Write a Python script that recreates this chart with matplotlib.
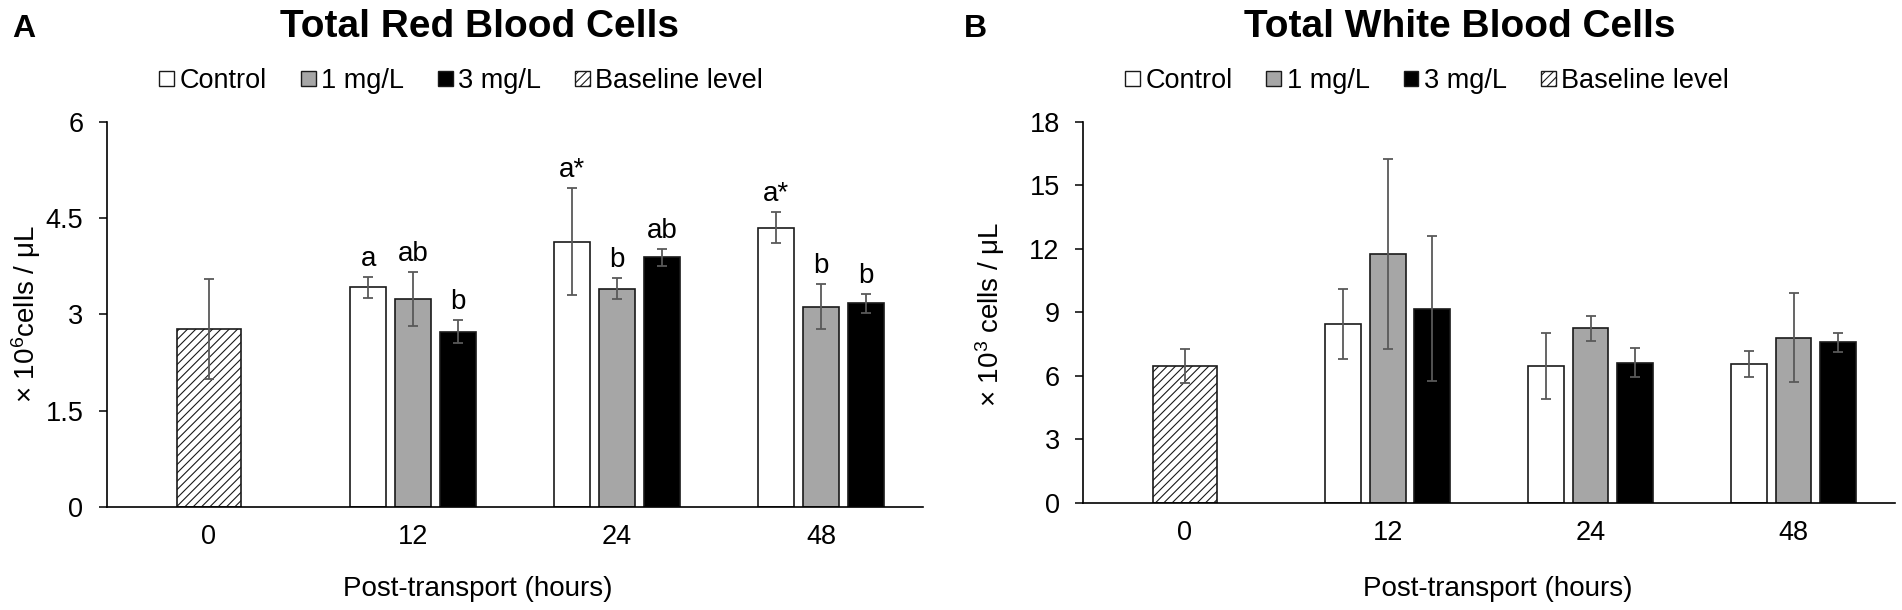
import matplotlib
matplotlib.use("Agg")
import matplotlib.pyplot as plt
from matplotlib.patches import Patch
import numpy as np

plt.rcParams['font.family'] = ['Liberation Sans', 'DejaVu Sans']
plt.rcParams['mathtext.fontset'] = 'custom'
plt.rcParams['mathtext.rm'] = 'Liberation Sans'
plt.rcParams['mathtext.it'] = 'Liberation Sans:italic'
plt.rcParams['mathtext.bf'] = 'Liberation Sans:bold'
plt.rcParams['hatch.linewidth'] = 0.8

# ---------------- data ----------------
categories = ['0', '12', '24', '48']
groups = ['Control', '1 mg/L', '3 mg/L']

rbc_baseline = 2.77
rbc_baseline_err = 0.78
rbc_control = [3.42, 4.13, 4.35]
rbc_control_err = [0.16, 0.83, 0.24]
rbc_1mg = [3.245, 3.40, 3.12]
rbc_1mg_err = [0.42, 0.16, 0.35]
rbc_3mg = [2.73, 3.89, 3.17]
rbc_3mg_err = [0.18, 0.13, 0.15]
rbc_letters_control = ['a', 'a*', 'a*']
rbc_letters_1mg = ['ab', 'b', 'b']
rbc_letters_3mg = ['b', 'ab', 'b']

wbc_baseline = 6.48
wbc_baseline_err = 0.80
wbc_control = [8.46, 6.48, 6.57]
wbc_control_err = [1.66, 1.55, 0.62]
wbc_1mg = [11.77, 8.24, 7.81]
wbc_1mg_err = [4.48, 0.59, 2.10]
wbc_3mg = [9.18, 6.63, 7.58]
wbc_3mg_err = [3.43, 0.68, 0.46]

rbc_ticks = [0, 1.5, 3, 4.5, 6]
rbc_ticklabels = ['0', '1.5', '3', '4.5', '6']
wbc_ticks = [0, 3, 6, 9, 12, 15, 18]
wbc_ticklabels = ['0', '3', '6', '9', '12', '15', '18']

# ---------------- style ----------------
W, H = 1902, 610
fig = plt.figure(figsize=(W / 100, H / 100), dpi=100)

def fx(x):
    return x / W

def fy(y):
    return 1 - y / H

colors = ['white', '#a6a6a6', 'black']
edge = '#1a1a1a'
err_col = '#595959'
bw = 0.176
off = 0.22
base_w = 0.314

def draw_panel(ax, base, base_err, series, errs, letters, ticks, ticklabels, ymax):
    ax.bar(0, base, width=base_w, color='white', edgecolor=edge, linewidth=1.2,
           hatch='////', zorder=2)
    ax.errorbar(0, base, yerr=base_err, fmt='none', ecolor=err_col,
                elinewidth=1.3, capsize=3.6, capthick=1.3, zorder=3)
    xs = np.arange(1, len(categories))
    for i, (vals, e) in enumerate(zip(series, errs)):
        x = xs + (i - 1) * off
        ax.bar(x, vals, width=bw, color=colors[i], edgecolor=edge,
               linewidth=1.2, zorder=2)
        ax.errorbar(x, vals, yerr=e, fmt='none', ecolor=err_col,
                    elinewidth=1.3, capsize=3.6, capthick=1.3, zorder=3)
        if letters is not None:
            for xi, v, ei, lab in zip(x, vals, e, letters[i]):
                ax.annotate(lab, xy=(xi, v + ei), xytext=(0, 8),
                            textcoords='offset points', ha='center',
                            va='baseline', fontsize=20)
    ax.set_xlim(-0.5, len(categories) - 0.5)
    ax.set_ylim(0, ymax)
    ax.set_xticks(range(len(categories)))
    ax.set_xticklabels(categories)
    ax.set_yticks(ticks)
    ax.set_yticklabels(ticklabels)
    ax.tick_params(axis='x', length=0, pad=12, labelsize=19.5)
    ax.tick_params(axis='y', direction='out', length=6, width=1.1, pad=11,
                   labelsize=19.5)
    for s in ['top', 'right']:
        ax.spines[s].set_visible(False)
    for s in ['left', 'bottom']:
        ax.spines[s].set_linewidth(1.2)
        ax.spines[s].set_color('black')

axL = fig.add_axes([fx(107), fy(507), fx(923) - fx(107), fy(121.7) - fy(507)])
draw_panel(axL, rbc_baseline, rbc_baseline_err,
           [rbc_control, rbc_1mg, rbc_3mg],
           [rbc_control_err, rbc_1mg_err, rbc_3mg_err],
           [rbc_letters_control, rbc_letters_1mg, rbc_letters_3mg],
           rbc_ticks, rbc_ticklabels, 6)

axR = fig.add_axes([fx(1083.3), fy(503), fx(1895) - fx(1083.3), fy(121.7) - fy(503)])
draw_panel(axR, wbc_baseline, wbc_baseline_err,
           [wbc_control, wbc_1mg, wbc_3mg],
           [wbc_control_err, wbc_1mg_err, wbc_3mg_err],
           None, wbc_ticks, wbc_ticklabels, 18)

# titles, labels
fig.text(fx(480), fy(37.3), 'Total Red Blood Cells', ha='center', va='baseline',
         fontsize=28, fontweight='bold')
fig.text(fx(1460), fy(37.3), 'Total White Blood Cells', ha='center', va='baseline',
         fontsize=28, fontweight='bold')
fig.text(fx(12), fy(37), 'A', ha='left', va='baseline', fontsize=23, fontweight='bold')
fig.text(fx(964), fy(37), 'B', ha='left', va='baseline', fontsize=23, fontweight='bold')

fig.text(fx(478), fy(596), 'Post-transport (hours)', ha='center', va='baseline', fontsize=20)
fig.text(fx(1498), fy(596), 'Post-transport (hours)', ha='center', va='baseline', fontsize=20)

fig.text(fx(26), fy(314), r'× 10$^{6}$cells / μL', rotation=90, ha='center',
         va='center', fontsize=20)
fig.text(fx(990), fy(314), r'× 10$^{3}$ cells / μL', rotation=90, ha='center',
         va='center', fontsize=20)

# legends
handles = [Patch(facecolor=colors[0], edgecolor=edge, linewidth=1.0),
           Patch(facecolor=colors[1], edgecolor=edge, linewidth=1.0),
           Patch(facecolor=colors[2], edgecolor=edge, linewidth=1.0),
           Patch(facecolor='white', edgecolor=edge, linewidth=1.0, hatch='////')]
labels = groups + ['Baseline level']
for x0 in (159.3, 1125):
    fig.legend(handles, labels, loc='center left', bbox_to_anchor=(fx(x0), fy(81)),
               ncol=4, frameon=False, fontsize=19.5, handlelength=0.55,
               handleheight=0.5, handletextpad=0.2, columnspacing=1.25,
               borderpad=0, borderaxespad=0)

fig.savefig('out.png', dpi=100)
